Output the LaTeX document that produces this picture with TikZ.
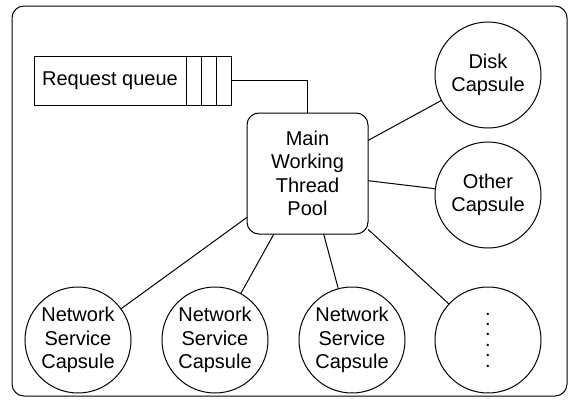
\documentclass[tikz,border=0pt]{standalone}
\usepackage{fontspec}
\setmainfont{Liberation Sans}
\usetikzlibrary{positioning}

\tikzset{
    txt/.style     = {font=\fontsize{15pt}{17.6pt}\selectfont, align=center},
    capsule/.style = {draw, circle, txt, minimum size=79.5pt, inner sep=0pt, outer sep=0pt},
    pool/.style    = {draw, txt, rounded corners=9pt, minimum width=90.75pt, minimum height=90.75pt, inner sep=0pt, outer sep=0pt},
    qbox/.style    = {draw, txt, minimum height=36.75pt, inner sep=0pt, outer sep=0pt},
    qcell/.style   = {qbox, minimum width=11.25pt}
}

\begin{document}
\begin{tikzpicture}[x=0.75pt, y=-0.75pt, line width=0.75pt]
                    \useasboundingbox (0,0) rectangle (569,400);

                    \coordinate (q)  at (110,80.5);
                    \coordinate (m)  at (307.5,173.5);
                    \coordinate (c1) at (488,75);
                    \coordinate (c2) at (488,195);
                    \coordinate (c3) at (78,340);
                    \coordinate (c4) at (215,340);
                    \coordinate (c5) at (352,340);
                    \coordinate (c6) at (488,340);

                    \draw[rounded corners=9pt] (12,6) rectangle (567,396);

                    \node [qbox, minimum width=114pt] (queue) at (q) {Request queue};
                    \node [qcell, right=0pt of queue] (cell1) {};
                    \node [qcell, right=0pt of cell1] (cell2) {};
                    \node [qcell, right=0pt of cell2] (cell3) {};

                    \node [pool] (main) at (m) {Main\\Working\\Thread\\Pool};

                    \node [capsule] (disk)  at (c1) {Disk\\Capsule};
                    \node [capsule] (other) at (c2) {Other\\Capsule};
                    \node [capsule] (net1)  at (c3) {Network\\Service\\Capsule};
                    \node [capsule] (net2)  at (c4) {Network\\Service\\Capsule};
                    \node [capsule] (net3)  at (c5) {Network\\Service\\Capsule};
                    \node [capsule, font=\fontsize{15pt}{7.8pt}\selectfont] (more) at (c6) {.\\.\\.\\.\\.\\.};

                    \draw (cell3.east) -| (main.north);
                    \draw (main) -- (disk);
                    \draw (main) -- (other);
                    \draw (main) -- (net1);
                    \draw (main) -- (net2);
                    \draw (main) -- (net3);
                    \draw (main) -- (more);
                \end{tikzpicture}
\end{document}
